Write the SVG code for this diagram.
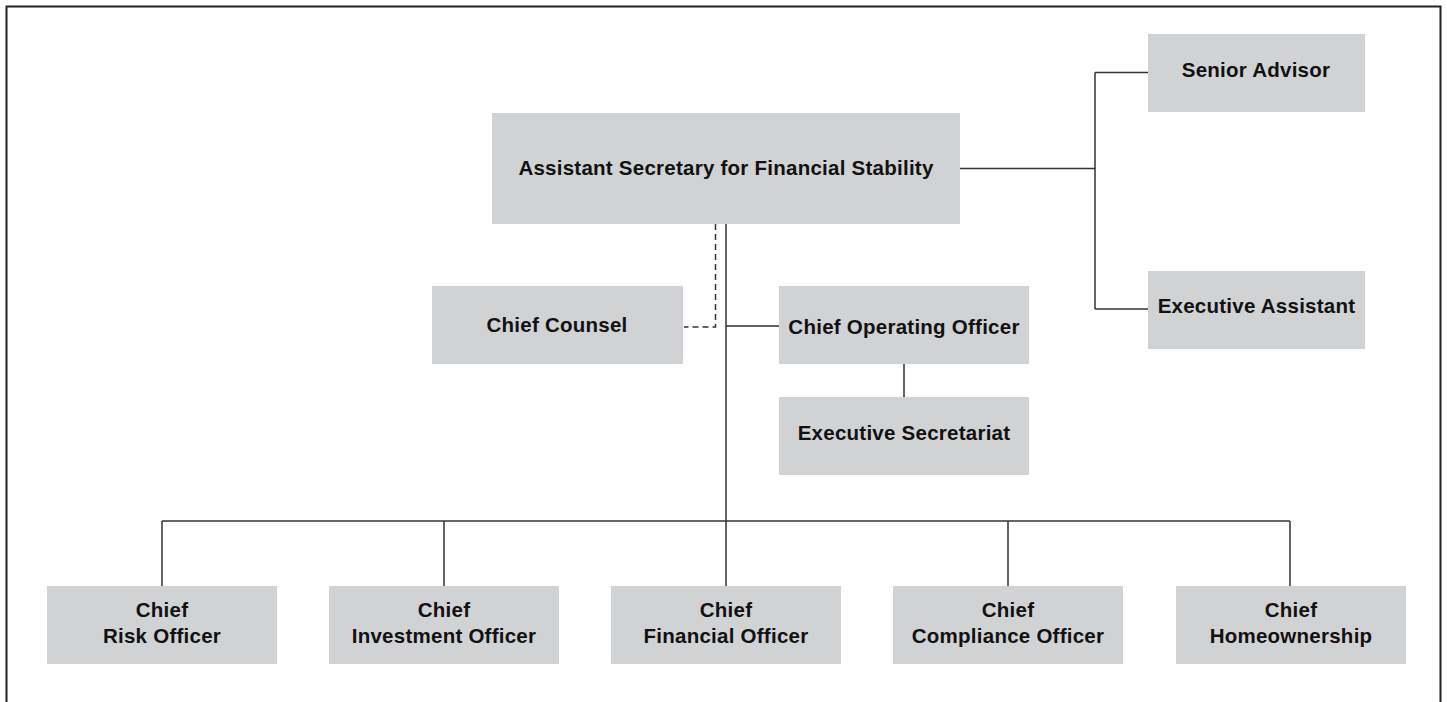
<svg xmlns="http://www.w3.org/2000/svg" width="1447" height="702" viewBox="0 0 1447 702">
<style>
.box{fill:#d1d2d4}
.t{font-family:"Liberation Sans",Arial,Helvetica,sans-serif;font-weight:bold;font-size:20.5px;letter-spacing:0.25px;fill:#111;text-anchor:middle}
.ln{fill:none;stroke:#333;stroke-width:1.5}
.dash{fill:none;stroke:#333;stroke-width:1.5;stroke-dasharray:6 4}
</style>
<rect x="0" y="0" width="1447" height="702" fill="#fff"/>
<path d="M6.5,702 V6.5 H1440.5 V702" fill="none" stroke="#222" stroke-width="2"/>
<g id="connectors">
<path class="ln" d="M960,168.5 H1095 M1095,72.5 V309 M1095,72.5 H1148 M1095,309 H1148"/>
<path class="ln" d="M726,224 V586 M726,326 H779 M904,364 V397"/>
<path class="dash" d="M715.5,224 V327 H684"/>
<path class="ln" d="M162,521 H1290 M162,521 V586 M444,521 V586 M1008,521 V586 M1290,521 V586"/>
</g>
<g id="assistant-secretary"><rect class="box" x="492" y="113" width="468" height="111"/><text class="t" x="726" y="175">Assistant Secretary for Financial Stability</text></g>
<g id="senior-advisor"><rect class="box" x="1148" y="34" width="217" height="78"/><text class="t" x="1256" y="77">Senior Advisor</text></g>
<g id="executive-assistant"><rect class="box" x="1148" y="271" width="217" height="78"/><text class="t" x="1256.5" y="313">Executive Assistant</text></g>
<g id="chief-counsel"><rect class="box" x="432" y="286" width="251" height="78"/><text class="t" x="557" y="332">Chief Counsel</text></g>
<g id="chief-operating-officer"><rect class="box" x="779" y="286" width="250" height="78"/><text class="t" x="904" y="334">Chief Operating Officer</text></g>
<g id="executive-secretariat"><rect class="box" x="779" y="397" width="250" height="78"/><text class="t" x="904" y="440">Executive Secretariat</text></g>
<g id="chief-risk-officer"><rect class="box" x="47" y="586" width="230" height="78"/><text class="t" x="162" y="617">Chief</text><text class="t" x="162" y="643">Risk Officer</text></g>
<g id="chief-investment-officer"><rect class="box" x="329" y="586" width="230" height="78"/><text class="t" x="444" y="617">Chief</text><text class="t" x="444" y="643">Investment Officer</text></g>
<g id="chief-financial-officer"><rect class="box" x="611" y="586" width="230" height="78"/><text class="t" x="726" y="617">Chief</text><text class="t" x="726" y="643">Financial Officer</text></g>
<g id="chief-compliance-officer"><rect class="box" x="893" y="586" width="230" height="78"/><text class="t" x="1008" y="617">Chief</text><text class="t" x="1008" y="643">Compliance Officer</text></g>
<g id="chief-homeownership"><rect class="box" x="1176" y="586" width="230" height="78"/><text class="t" x="1291" y="617">Chief</text><text class="t" x="1291" y="643">Homeownership</text></g>
</svg>
